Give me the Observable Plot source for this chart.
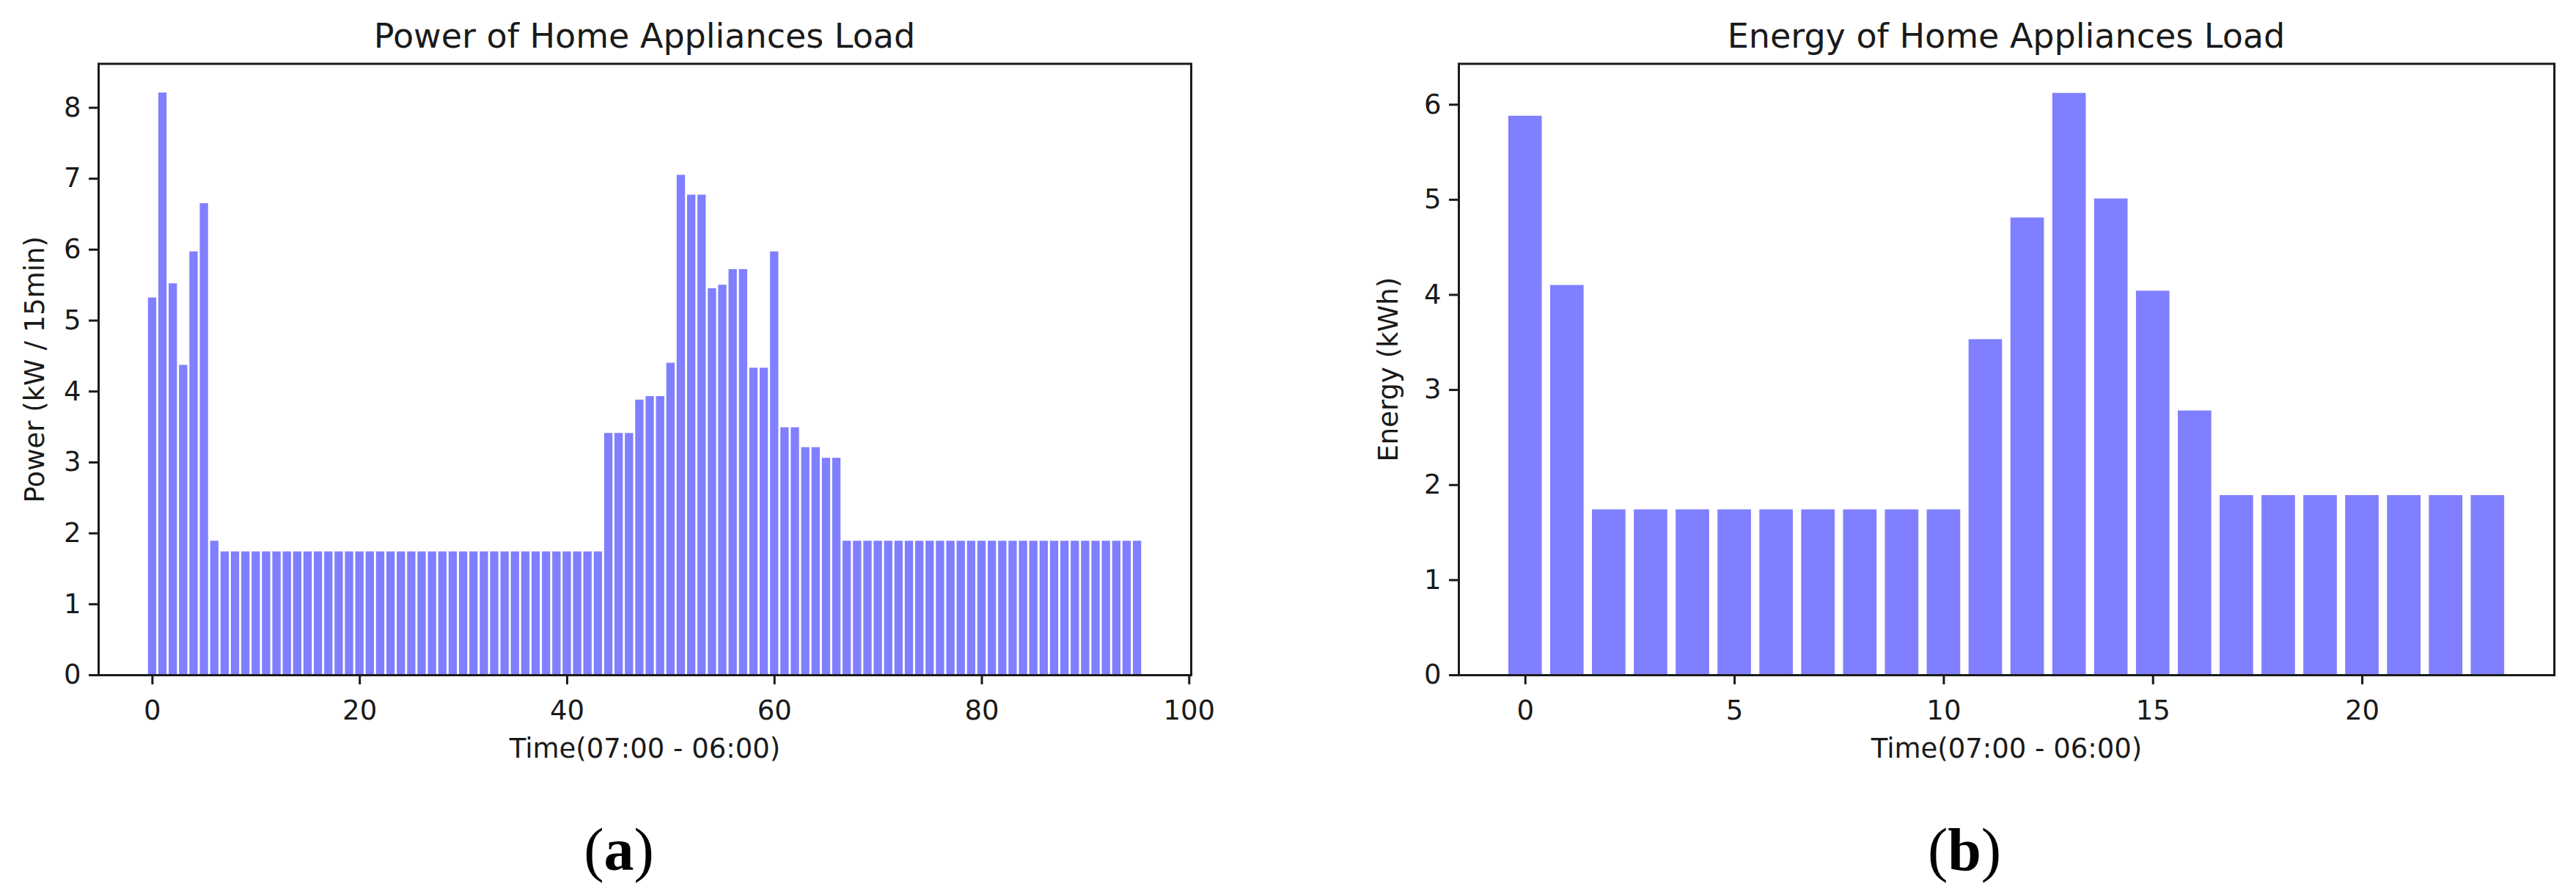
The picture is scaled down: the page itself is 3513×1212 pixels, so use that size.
<!DOCTYPE html>
<html>
<head>
<meta charset="utf-8">
<script src="https://cdn.jsdelivr.net/npm/d3@7"></script>
<script src="https://cdn.jsdelivr.net/npm/@observablehq/plot@0.6"></script>
<style>
  html, body { margin: 0; padding: 0; background: #fff; }
  #page { position: relative; width: 3513px; height: 1212px; overflow: hidden; background: #fff; }
  .chart { position: absolute; top: 0; }
  .title { position: absolute; top: 26px; width: 1200px; font-family: "DejaVu Sans"; font-size: 46px; line-height: 46px; color: #1a1a1a; text-align: center; white-space: nowrap; }
  .caption { position: absolute; top: 1118px; width: 400px; font-family: "Liberation Serif"; font-size: 82px; line-height: 82px; color: #000; text-align: center; }
</style>
</head>
<body>
<div id="page"></div>
<script>
// ---- Data ----
const powerTitle = "Power of Home Appliances Load";
const energyTitle = "Energy of Home Appliances Load";
const timeLabel = "Time(07:00 - 06:00)";
const powerLabel = "Power (kW / 15min)";
const energyLabel = "Energy (kWh)";
const captionA = "a";
const captionB = "b";

// power per 15-min slot (96 slots)
const powerValues = [
  5.32, 8.21, 5.52, 4.37, 5.97, 6.65, 1.89, 1.74, 1.74, 1.74,
  1.74, 1.74, 1.74, 1.74, 1.74, 1.74, 1.74, 1.74, 1.74, 1.74,
  1.74, 1.74, 1.74, 1.74, 1.74, 1.74, 1.74, 1.74, 1.74, 1.74,
  1.74, 1.74, 1.74, 1.74, 1.74, 1.74, 1.74, 1.74, 1.74, 1.74,
  1.74, 1.74, 1.74, 1.74, 3.41, 3.41, 3.41, 3.88, 3.93, 3.93,
  4.40, 7.05, 6.77, 6.77, 5.45, 5.50, 5.72, 5.72, 4.33, 4.33,
  5.97, 3.49, 3.49, 3.21, 3.21, 3.06, 3.06, 1.89, 1.89, 1.89,
  1.89, 1.89, 1.89, 1.89, 1.89, 1.89, 1.89, 1.89, 1.89, 1.89,
  1.89, 1.89, 1.89, 1.89, 1.89, 1.89, 1.89, 1.89, 1.89, 1.89,
  1.89, 1.89, 1.89, 1.89, 1.89, 1.89
];

// energy per hour (24 hours)
const energyValues = [
  5.88, 4.10, 1.74, 1.74, 1.74, 1.74, 1.74, 1.74, 1.74, 1.74,
  1.74, 3.53, 4.81, 6.12, 5.01, 4.04, 2.78, 1.89, 1.89, 1.89,
  1.89, 1.89, 1.89, 1.89
];

const powerXTicks = [0, 20, 40, 60, 80, 100];
const powerYTicks = [0, 1, 2, 3, 4, 5, 6, 7, 8];
const energyXTicks = [0, 5, 10, 15, 20];
const energyYTicks = [0, 1, 2, 3, 4, 5, 6];

// ---- Drawing ----
const barColor = "#7f7fff";
const ink = "#1a1a1a";

function chart({values, xDomain, yDomain, xTicks, yTicks, xLabel, yLabel, width, marginLeft, marginRight, yLabelOffset}) {
  const data = values.map((v, i) => ({slot: i, value: v}));
  return Plot.plot({
    width,
    height: 1212,
    marginLeft,
    marginRight,
    marginTop: 86.5,
    marginBottom: 292,
    style: {fontFamily: "DejaVu Sans", fontSize: "37px", color: ink, background: "#fff", maxWidth: "none"},
    x: {domain: xDomain},
    y: {domain: yDomain},
    marks: [
      Plot.rect(data, {x1: d => d.slot - 0.4, x2: d => d.slot + 0.4, y1: () => 0, y2: "value", fill: barColor}),
      Plot.axisX({ticks: xTicks, tickSize: 13, tickPadding: 21, strokeWidth: 3, tickFormat: d => String(d),
        label: xLabel, labelAnchor: "center", labelOffset: 112, labelArrow: false}),
      Plot.axisY({ticks: yTicks, tickSize: 13, tickPadding: 11, strokeWidth: 3, tickFormat: d => String(d),
        label: yLabel, labelAnchor: "center", labelOffset: yLabelOffset, labelArrow: false}),
      Plot.frame({stroke: ink, strokeWidth: 3})
    ]
  });
}

const page = document.getElementById("page");

const left = chart({
  values: powerValues, xDomain: [-5.19, 100.19], yDomain: [0, 8.62],
  xTicks: powerXTicks, yTicks: powerYTicks, xLabel: timeLabel, yLabel: powerLabel,
  width: 1756, marginLeft: 134, marginRight: 132, yLabelOffset: 101
});
left.classList.add("chart");
left.style.left = "0px";
page.appendChild(left);

const right = chart({
  values: energyValues, xDomain: [-1.59, 24.59], yDomain: [0, 6.43],
  xTicks: energyXTicks, yTicks: energyYTicks, xLabel: timeLabel, yLabel: energyLabel,
  width: 1757, marginLeft: 233, marginRight: 30, yLabelOffset: 110
});
right.classList.add("chart");
right.style.left = "1756px";
page.appendChild(right);

function addDiv(cls, centerX, html) {
  const el = document.createElement("div");
  el.className = cls;
  const w = cls === "title" ? 1200 : 400;
  el.style.left = (centerX - w / 2) + "px";
  el.innerHTML = html;
  page.appendChild(el);
}
addDiv("title", 879, powerTitle);
addDiv("title", 2736, energyTitle);
addDiv("caption", 844, "(<b>" + captionA + "</b>)");
addDiv("caption", 2679, "(<b>" + captionB + "</b>)");
</script>
</body>
</html>
